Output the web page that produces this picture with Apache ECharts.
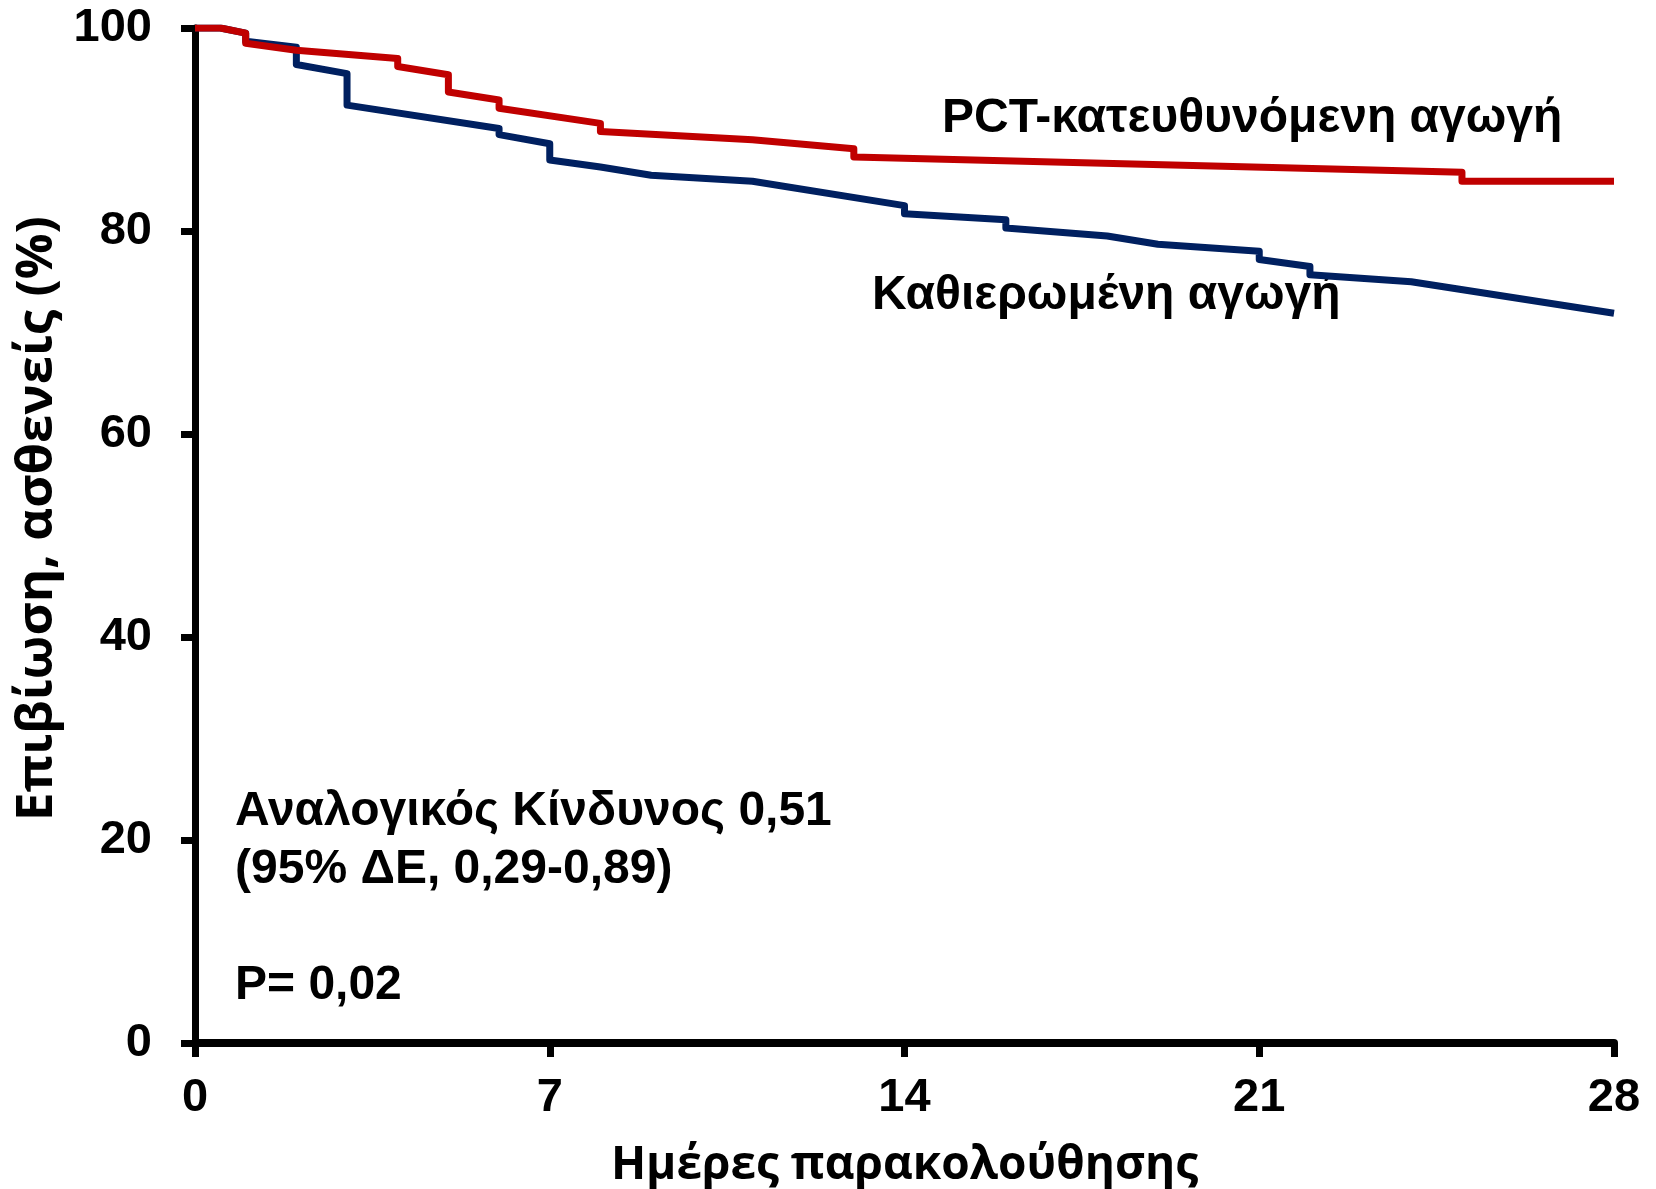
<!DOCTYPE html>
<html>
<head>
<meta charset="utf-8">
<title>Επιβίωση</title>
<script src="https://cdn.jsdelivr.net/npm/echarts@6/dist/echarts.min.js"></script>
<style>
  html, body { margin: 0; padding: 0; background: #ffffff; overflow: hidden; }
  #chart { width: 1656px; height: 1189px; }
</style>
</head>
<body>
<div id="chart"></div>
<script>
// Kaplan–Meier survival curves (days of follow-up vs % of patients alive)
const pctDays     = [0, 0.5, 1, 1, 2, 4, 4, 5, 5, 6, 6, 8, 8, 11, 13, 13, 25, 25, 28];
const pctSurvival = [100, 100, 99.5, 98.5, 97.8, 97.0, 96.2, 95.4, 93.7, 92.9, 92.1, 90.6, 89.8, 89.0, 88.1, 87.3, 85.8, 84.9, 84.9];

const stdDays     = [0, 0.5, 1, 1, 2, 2, 3, 3, 6, 6, 7, 7, 8, 9, 11, 14, 14, 16, 16, 18, 19, 21, 21, 22, 22, 24, 28];
const stdSurvival = [100, 100, 99.5, 98.7, 98.1, 96.4, 95.5, 92.4, 90.1, 89.5, 88.6, 87.0, 86.3, 85.5, 84.9, 82.5, 81.7, 81.1, 80.3, 79.5, 78.7, 78.0, 77.2, 76.5, 75.7, 75.0, 71.9];

const xTicks = [0, 7, 14, 21, 28];
const yTicks = [0, 20, 40, 60, 80, 100];

const pctName = 'PCT-κατευθυνόμενη αγωγή';
const stdName = 'Καθιερωμένη αγωγή';
const xTitle = 'Ημέρες παρακολούθησης';
const yTitle = 'Επιβίωση, ασθενείς (%)';
const statLines = ['Αναλογικός Κίνδυνος 0,51', '(95% ΔΕ, 0,29-0,89)', '', 'P= 0,02'];

const zip = (xs, ys) => xs.map((x, i) => [x, ys[i]]);

const FONT = '"Liberation Sans", Arial, sans-serif';
const TITLE_FONT = '"Open Sans", "Noto Sans", sans-serif';
const chart = echarts.init(document.getElementById('chart'), null, { renderer: 'canvas' });

chart.setOption({
  animation: false,
  backgroundColor: '#ffffff',
  grid: { left: 195, right: 42, top: 28, bottom: 146, containLabel: false, outerBoundsMode: 'none' },
  xAxis: {
    type: 'value',
    min: xTicks[0],
    max: xTicks[xTicks.length - 1],
    interval: 7,
    name: xTitle,
    nameLocation: 'middle',
    nameGap: 100,
    nameTextStyle: { fontFamily: TITLE_FONT, fontWeight: 'bold', fontSize: 46, color: '#000' },
    axisLine: { show: true, onZero: false, lineStyle: { color: '#000', width: 8 } },
    axisTick: { show: true, inside: false, length: 14, lineStyle: { color: '#000', width: 7 } },
    axisLabel: { margin: 32, fontFamily: FONT, fontWeight: 'bold', fontSize: 47, color: '#000' },
    splitLine: { show: false }
  },
  yAxis: {
    type: 'value',
    min: yTicks[0],
    max: yTicks[yTicks.length - 1],
    interval: 20,
    name: yTitle,
    nameLocation: 'middle',
    nameRotate: 90,
    nameGap: 128,
    nameTextStyle: { fontFamily: TITLE_FONT, fontWeight: 'bold', fontSize: 51, color: '#000', padding: [0, 0, 0, 34] },
    axisLine: { show: true, onZero: false, lineStyle: { color: '#000', width: 7 } },
    axisTick: { show: true, inside: false, length: 14, lineStyle: { color: '#000', width: 7 } },
    axisLabel: { margin: 43, fontFamily: FONT, fontWeight: 'bold', fontSize: 47, color: '#000' },
    splitLine: { show: false }
  },
  series: [
    {
      name: stdName,
      type: 'line',
      data: zip(stdDays, stdSurvival),
      showSymbol: false,
      z: 2,
      lineStyle: { color: '#002060', width: 7, join: 'round', cap: 'butt' }
    },
    {
      name: pctName,
      type: 'line',
      data: zip(pctDays, pctSurvival),
      showSymbol: false,
      z: 3,
      lineStyle: { color: '#C00000', width: 7, join: 'round', cap: 'butt' }
    }
  ],
  graphic: [
    {
      type: 'text', left: 942, top: 95,
      style: { text: pctName, fontFamily: FONT, fontWeight: 'bold', fontSize: 48, fill: '#000' }
    },
    {
      type: 'text', left: 872, top: 272,
      style: { text: stdName, fontFamily: FONT, fontWeight: 'bold', fontSize: 48, fill: '#000' }
    },
    {
      type: 'text', left: 235, top: 783,
      style: { text: statLines.join('\n'), lineHeight: 58, fontFamily: FONT, fontWeight: 'bold', fontSize: 48, fill: '#000' }
    }
  ]
});
</script>
</body>
</html>
